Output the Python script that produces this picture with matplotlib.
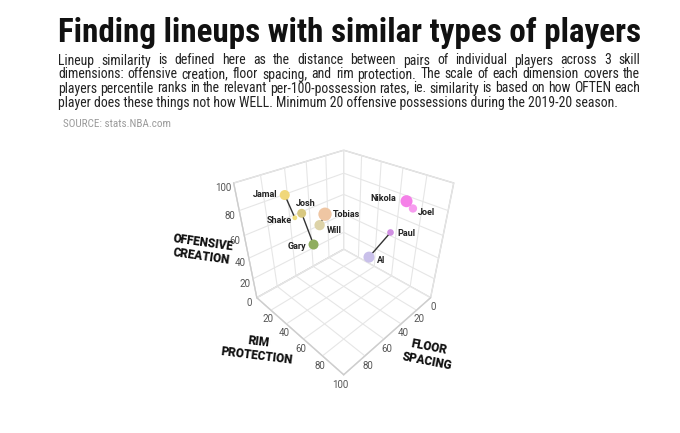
import numpy as np
import matplotlib.pyplot as plt
from matplotlib import font_manager
from mpl_toolkits.mplot3d import proj3d

installed = {f.name for f in font_manager.fontManager.ttflist}
narrow = 'Roboto Condensed' if 'Roboto Condensed' in installed else (
    'Liberation Sans Narrow' if 'Liberation Sans Narrow' in installed else 'DejaVu Sans')
plt.rcParams['font.family'] = ['Roboto', 'DejaVu Sans']
plt.rcParams['grid.color'] = '#e6e6e6'
plt.rcParams['grid.linewidth'] = 0.8

# ---- data ----
players = ['Jamal', 'Shake', 'Josh', 'Gary', 'Tobias', 'Will', 'Nikola', 'Joel', 'Paul', 'Al']
floor_spacing = [73, 70, 60, 69, 45, 50, 15, 35, 19, 40]
rim_protection = [16, 21, 16, 39, 25, 24, 76, 94, 68, 66]
off_creation = [88, 71, 69, 56, 66, 58, 84, 92, 57, 44]
sizes = [52, 12, 42, 52, 92, 55, 75, 36, 23, 63]
colors = ['#f0d77a', '#f0de7e', '#d8c880', '#8fad5f', '#efc6a3',
          '#ddd3a8', '#f580e8', '#f79cef', '#d08fe2', '#c9c0ea']
pairs = [('Jamal', 'Shake'), ('Josh', 'Gary'), ('Tobias', 'Will'),
         ('Nikola', 'Joel'), ('Paul', 'Al')]
ticks = [0, 20, 40, 60, 80, 100]

# label offsets (pixels) and alignment
label_pos = {'Jamal': (-7, 1, 'right'), 'Shake': (-3, -3, 'right'), 'Josh': (4.5, 10, 'center'),
             'Gary': (-7, -2, 'right'), 'Tobias': (8, 0, 'left'), 'Will': (7, -5, 'left'),
             'Nikola': (-10, 3, 'right'), 'Joel': (5, -4, 'left'), 'Paul': (7, -1, 'left'),
             'Al': (8, -3, 'left')}

W, H = 680, 433
fig = plt.figure(figsize=(6.8, 4.33), dpi=100)

fig.text(58 / W, 1 - 42 / H, 'Finding lineups with similar types of players',
         family=narrow, fontweight='bold', fontsize=23.8, color='#111111')

desc = ['Lineup similarity is defined here as the distance between pairs of individual players across 3 skill',
        'dimensions: offensive creation, floor spacing, and rim protection. The scale of each dimension covers the',
        'players percentile ranks in the relevant per-100-possession rates, ie. similarity is based on how OFTEN each',
        'player does these things not how WELL. Minimum 20 offensive possessions during the 2019-20 season.']
renderer = fig.canvas.get_renderer()
body = dict(family=narrow, fontsize=9.9, color='#222222')
x0, x1 = 58, 640
for i, line in enumerate(desc):
    y = 1 - (64.5 + i * 14) / H
    if i == len(desc) - 1:
        fig.text(x0 / W, y, line, **body)
        continue
    # justified line
    words = line.split()
    widths = []
    for w in words:
        t = fig.text(0, 0, w, **body)
        widths.append(t.get_window_extent(renderer).width)
        t.remove()
    gap = (x1 - x0 - sum(widths)) / (len(words) - 1)
    xx = x0
    for w, wd in zip(words, widths):
        fig.text(xx / W, y, w, **body)
        xx += wd + gap

fig.text(63 / W, 1 - 127 / H, 'SOURCE: stats.NBA.com', family=narrow, fontsize=8, color='#9a9a9a')

# ---- 3d chart ----
ax = fig.add_axes([0.1996, 0.0801, 0.6, 0.68], projection='3d', computed_zorder=False)
ax.set_proj_type('persp', focal_length=0.2)
ax.view_init(elev=33.5, azim=45)
ax.set_box_aspect((1, 1, 0.988), zoom=0.781)

ax.set_xlim(0, 100)
ax.set_ylim(0, 100)
ax.set_zlim(0, 100)
ax.set_xticks(ticks)
ax.set_yticks(ticks)
ax.set_zticks(ticks)
ax.set_xticklabels([str(v) for v in ticks[:-1]] + [''])
ax.set_yticklabels([''] + [str(v) for v in ticks[1:]])
ax.set_zticklabels([str(v) for v in ticks])
ax.tick_params(colors='#555555', labelsize=7)
ax.tick_params(axis='x', pad=-5)
ax.tick_params(axis='y', pad=-5)
ax.tick_params(axis='z', pad=-3)
for axis in (ax.xaxis, ax.yaxis, ax.zaxis):
    axis.set_pane_color((1, 1, 1, 1))
    axis.pane.set_edgecolor('#d0d0d0')
    axis.line.set_color('#cccccc')
    axis._axinfo['tick']['inward_factor'] = 0
    axis._axinfo['tick']['outward_factor'] = 0

idx = {pl: i for i, pl in enumerate(players)}
for a, b in pairs:
    ia, ib = idx[a], idx[b]
    ax.plot([floor_spacing[ia], floor_spacing[ib]], [rim_protection[ia], rim_protection[ib]],
            [off_creation[ia], off_creation[ib]], color='#333333', lw=1, zorder=2)

ax.scatter(floor_spacing, rim_protection, off_creation, s=sizes, c=colors,
           edgecolors='none', depthshade=False, alpha=1, zorder=3)

fig.canvas.draw()
M = ax.get_proj()
for i, pl in enumerate(players):
    px, py, _ = proj3d.proj_transform(floor_spacing[i], rim_protection[i], off_creation[i], M)
    dx, dy, ha = label_pos[pl]
    ax.annotate(pl, xy=(px, py), xycoords='data', xytext=(dx, dy), textcoords='offset pixels',
                ha=ha, va='center', fontsize=6.5, fontweight='bold', color='#222222', zorder=5)

lab = dict(fontsize=8.5, fontweight='black', color='#111111', ha='center', va='center',
           multialignment='center', linespacing=1.1)
fig.text(202 / W, 1 - 250 / H, 'OFFENSIVE\nCREATION', rotation=-8, **lab)
fig.text(258 / W, 1 - 349 / H, 'RIM\nPROTECTION', rotation=-7, **lab)
fig.text(428 / W, 1 - 354 / H, 'FLOOR\nSPACING', rotation=-11, **lab)

fig.savefig('out.png', dpi=100)
